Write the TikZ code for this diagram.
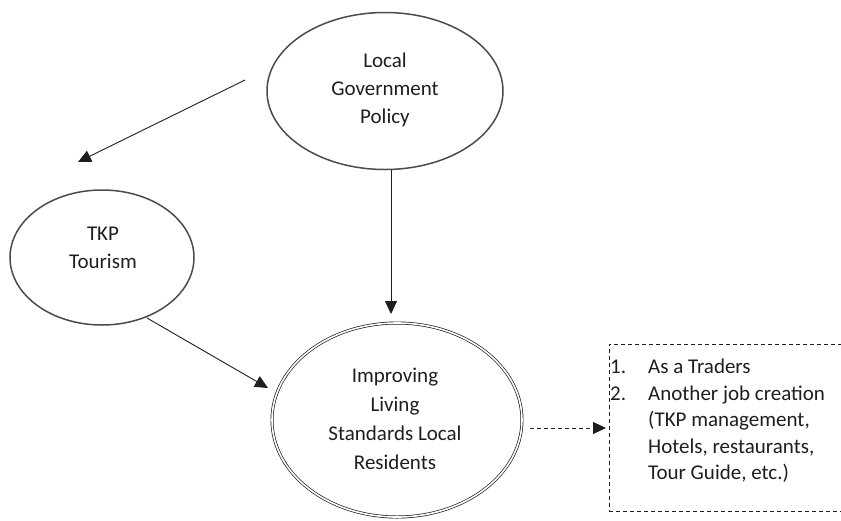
\documentclass[tikz,border=0pt]{standalone}
\usepackage{fontspec}
\setmainfont{Carlito}
\usetikzlibrary{shapes.geometric,arrows.meta}
\definecolor{ink}{RGB}{30,30,30}
\tikzset{
  bubble/.style={ellipse,draw=ink!80,line width=1.5pt,inner sep=0pt},
  dbubble/.style={ellipse,draw=ink,double=white,double distance=1.6pt,line width=0.7pt,inner sep=0pt},
  txt/.style={align=center,text=ink,inner sep=0pt},
  conn/.style={draw=ink,line width=0.9pt,-{Triangle[length=13pt,width=12pt]}},
  dconn/.style={conn,dashed,dash pattern=on 4pt off 3pt},
  listbox/.style={draw=ink,dashed,dash pattern=on 4pt off 3pt,line width=0.8pt,inner sep=0pt,minimum width=236pt,minimum height=167pt,anchor=north west}
}
\begin{document}
\begin{tikzpicture}[x=1pt,y=-1pt]
\useasboundingbox (0,0) rectangle (841,520);
\node[bubble,minimum width=236pt,minimum height=157pt] (gov) at (385,91) {};
\node[txt,font=\fontsize{21}{28}\selectfont] (govt) at (385,90) {Local\\Government\\Policy};
\node[bubble,minimum width=184pt,minimum height=135pt] (tkp) at (102,257.5) {};
\node[txt,font=\fontsize{21}{27.5}\selectfont] (tkpt) at (103,248) {TKP\\Tourism};
\node[dbubble,minimum width=250pt,minimum height=194pt] (imp) at (397,420) {};
\node[txt,font=\fontsize{21}{29}\selectfont] (impt) at (395,418.5) {Improving\\Living\\Standards Local\\Residents};
\node[listbox] (box) at (609,344) {};
\node[anchor=north west,text=ink,font=\fontsize{21}{26.5}\selectfont,align=left,inner sep=0pt] (items) at (610,359) {%
\makebox[38pt][l]{1.}As a Traders\\
\makebox[38pt][l]{2.}Another job creation\\
\hspace*{38pt}(TKP management,\\
\hspace*{38pt}Hotels, restaurants,\\
\hspace*{38pt}Tour Guide, etc.)};
\coordinate (a1s) at (245,80);
\coordinate (a1e) at (78,162);
\coordinate (a2s) at (391,170);
\coordinate (a2e) at (391,314);
\coordinate (a3s) at (147,318);
\coordinate (a3e) at (268,388);
\coordinate (a4s) at (530,428);
\coordinate (a4e) at (606,428);
\draw[conn] (a1s) -- (a1e);
\draw[conn] (a2s) -- (a2e);
\draw[conn] (a3s) -- (a3e);
\draw[dconn] (a4s) -- (a4e);
\end{tikzpicture}
\end{document}
